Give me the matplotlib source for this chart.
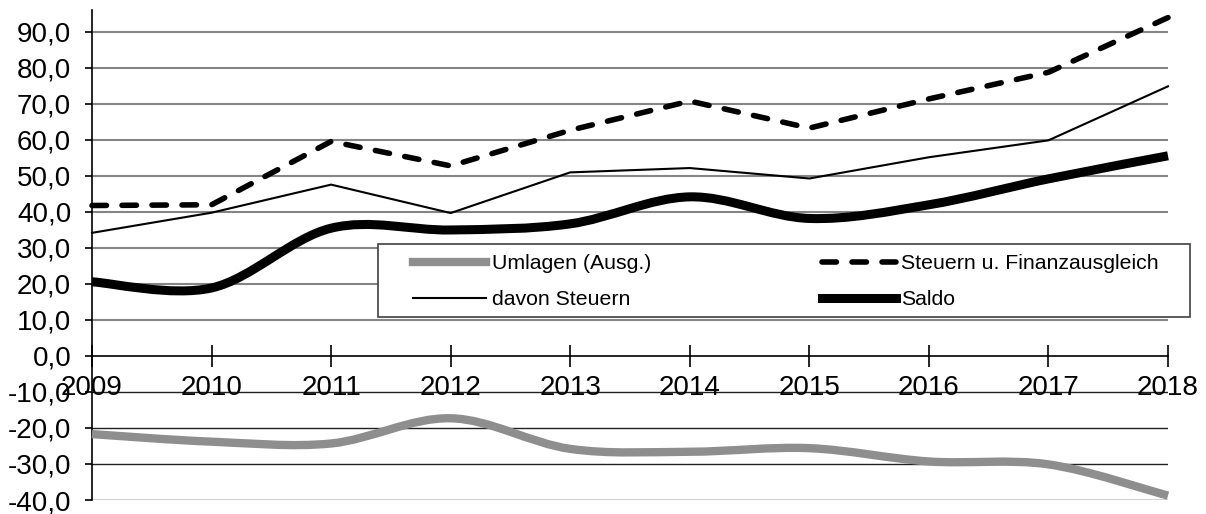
import numpy as np
import matplotlib
matplotlib.use('Agg')
from matplotlib import pyplot as plt
from matplotlib.path import Path
from matplotlib.patches import PathPatch, Rectangle
from matplotlib.lines import Line2D

plt.rcParams['font.family'] = ['Liberation Sans', 'DejaVu Sans']

years = [2009, 2010, 2011, 2012, 2013, 2014, 2015, 2016, 2017, 2018]
umlagen = [-21.7, -23.8, -24.3, -17.3, -25.8, -26.6, -25.6, -29.3, -30.1, -38.8]
steuern_fa = [41.8, 42.0, 59.6, 52.8, 62.7, 70.8, 63.3, 71.4, 78.8, 94.0]
davon_steuern = [34.2, 39.8, 47.6, 39.7, 51.0, 52.2, 49.3, 55.2, 59.9, 74.9]
saldo = [20.6, 18.9, 35.5, 35.0, 36.7, 44.2, 38.2, 42.0, 49.2, 55.6]

yticks = list(range(-40, 91, 10))


def smooth_path(x, y):
    # Excel-like smoothed line: cubic Bezier through the points
    pts = np.column_stack([x, y]).astype(float)
    n = len(pts)
    verts = [pts[0]]
    codes = [Path.MOVETO]
    for i in range(n - 1):
        p0 = pts[max(i - 1, 0)]
        p1 = pts[i]
        p2 = pts[i + 1]
        p3 = pts[min(i + 2, n - 1)]
        c1 = p1 + (p2 - p0) / 6
        c2 = p2 - (p3 - p1) / 6
        verts += [c1, c2, p2]
        codes += [Path.CURVE4] * 3
    return Path(verts, codes)


fig = plt.figure(figsize=(12.06, 5.14), dpi=100)
ax = fig.add_axes([92 / 1206, 1 - 500 / 514, 1076 / 1206, 490 / 514])

ax.set_xlim(2009, 2018)
ax.set_ylim(-40, 96.1)

# gridlines
for v in yticks:
    if v == 0:
        continue
    if v > 0:
        ax.axhline(v, color='#858585', lw=1.5, zorder=1)
    else:
        ax.axhline(v, color='#202020', lw=1.0, zorder=1)

ax.spines['top'].set_visible(False)
ax.spines['right'].set_visible(False)
ax.spines['bottom'].set_position(('data', 0))
ax.spines['bottom'].set_linewidth(1.2)
ax.spines['left'].set_linewidth(1.2)
ax.spines['bottom'].set_zorder(2)

ax.set_yticks(yticks)
ax.set_yticklabels([f'{v:.1f}'.replace('.', ',') for v in yticks])
ax.set_xticks(years)
ax.set_xticklabels([str(y) for y in years])
ax.tick_params(axis='y', direction='out', length=5, width=1.2, pad=10, labelsize=20)
ax.tick_params(axis='x', direction='inout', length=16, width=1.2, pad=6, labelsize=20)
for lab in ax.get_xticklabels():
    lab.set_zorder(3)

# series
ax.add_patch(PathPatch(smooth_path(years, umlagen), facecolor='none', edgecolor='#8e8e8e',
                       lw=6, capstyle='butt', joinstyle='round', zorder=3, clip_on=False))
ax.plot(years, steuern_fa, color='black', lw=4, dashes=(2.6, 2.8), dash_capstyle='round',
        zorder=3, clip_on=False)
ax.plot(years, davon_steuern, color='black', lw=1.5, zorder=3, clip_on=False)
ax.add_patch(PathPatch(smooth_path(years, saldo), facecolor='none', edgecolor='black',
                       lw=6.5, capstyle='butt', joinstyle='round', zorder=3, clip_on=False))

# legend
box = Rectangle(((378 - 92) / 1076, (500 - 317) / 490), (1190 - 378) / 1076, (317 - 244) / 490,
                transform=ax.transAxes, facecolor='white', edgecolor='#404040', lw=1.2,
                zorder=4, clip_on=False)
ax.add_patch(box)

handles = [
    Line2D([], [], color='#8e8e8e', lw=6),
    Line2D([], [], color='black', lw=1.5),
    Line2D([], [], color='black', lw=4, dashes=(2.6, 2.8), dash_capstyle='round'),
    Line2D([], [], color='black', lw=6.5),
]
labels = ['Umlagen (Ausg.)', 'davon Steuern', 'Steuern u. Finanzausgleich', 'Saldo']
leg = ax.legend(handles, labels, ncol=2, loc='upper left',
                bbox_to_anchor=((413 - 92) / 1076, (500 - 254) / 490),
                frameon=False, fontsize=15.3, borderpad=0, borderaxespad=0,
                handlelength=3.45, handletextpad=0.25, columnspacing=8.07,
                labelspacing=0.8)
leg.set_zorder(5)

fig.savefig('out.png', dpi=100)
